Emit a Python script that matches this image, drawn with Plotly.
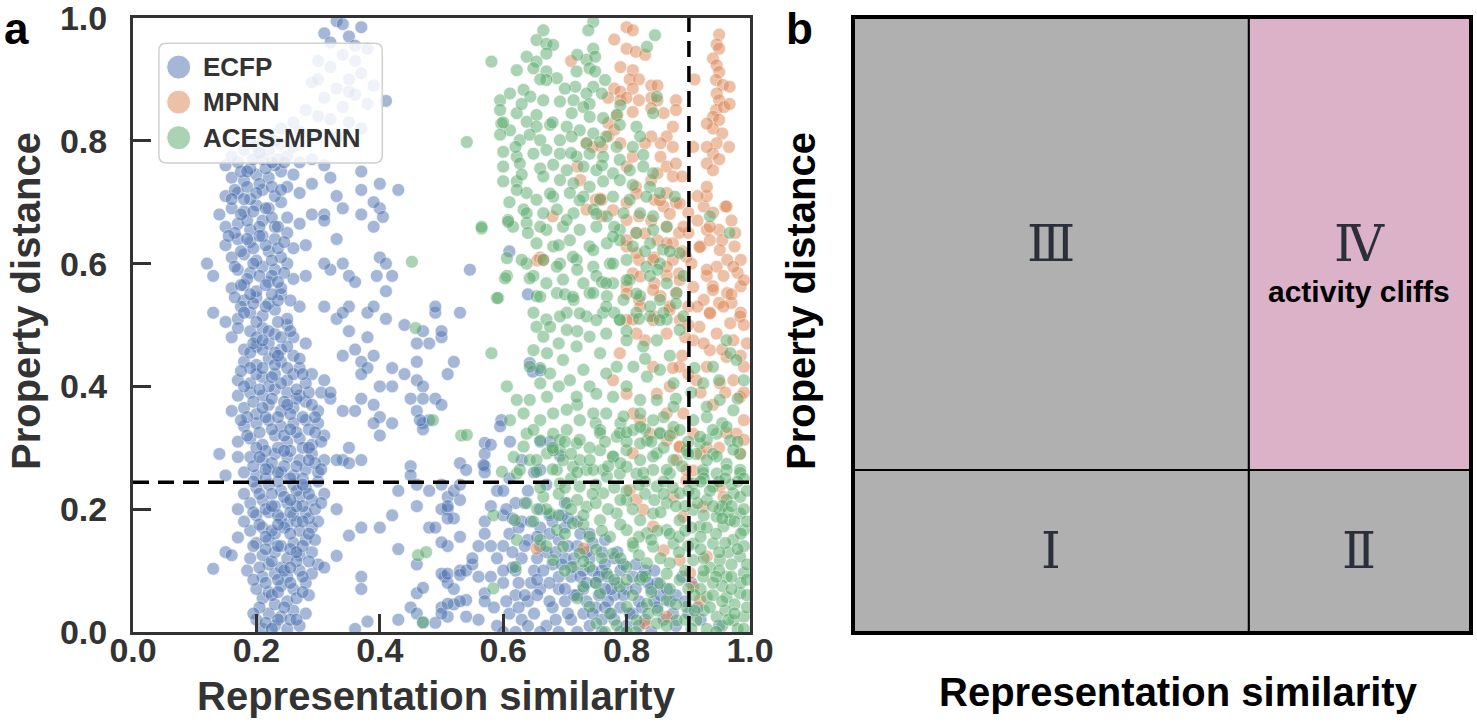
import plotly.graph_objects as go

# ---- panel a data: (representation similarity, property distance) ----
ecfp_pts = [
    # faded group behind the legend
    (0.33, 0.995), (0.31, 0.975), (0.35, 0.97), (0.36, 0.955), (0.34, 0.94), (0.30, 0.93), (0.32, 0.92),
    (0.37, 0.91), (0.35, 0.90), (0.29, 0.895), (0.33, 0.885), (0.31, 0.87), (0.36, 0.875), (0.38, 0.86),
    (0.34, 0.855), (0.28, 0.85), (0.30, 0.84), (0.32, 0.835), (0.35, 0.83), (0.37, 0.82), (0.27, 0.815),
    (0.29, 0.81), (0.33, 0.805), (0.41, 0.865), (0.36, 0.93), (0.32, 0.96), (0.38, 0.95), (0.30, 0.90),
    (0.39, 0.89), (0.26, 0.83), (0.24, 0.82), (0.22, 0.81), (0.34, 0.99), (0.37, 0.985), (0.35, 0.88),
    # main column
    (0.21, 0.005), (0.23, 0.01), (0.25, 0.005), (0.27, 0.01), (0.22, 0.03), (0.24, 0.025), (0.26, 0.035),
    (0.20, 0.02), (0.23, 0.045), (0.25, 0.05), (0.28, 0.03), (0.21, 0.055),
    (0.20, 0.07), (0.22, 0.065), (0.24, 0.075), (0.26, 0.07), (0.28, 0.08), (0.21, 0.09), (0.23, 0.095),
    (0.25, 0.09), (0.27, 0.10), (0.29, 0.095), (0.22, 0.11), (0.24, 0.105),
    (0.19, 0.12), (0.21, 0.125), (0.23, 0.13), (0.25, 0.12), (0.27, 0.125), (0.29, 0.13), (0.20, 0.145),
    (0.22, 0.15), (0.24, 0.14), (0.26, 0.145), (0.28, 0.15), (0.185, 0.10), (0.30, 0.11),
    (0.19, 0.165), (0.21, 0.17), (0.23, 0.16), (0.25, 0.175), (0.27, 0.165), (0.29, 0.17), (0.20, 0.19),
    (0.22, 0.195), (0.24, 0.185), (0.26, 0.19), (0.28, 0.195), (0.30, 0.18), (0.18, 0.18),
    (0.19, 0.21), (0.21, 0.215), (0.23, 0.205), (0.25, 0.21), (0.27, 0.22), (0.29, 0.215), (0.20, 0.235),
    (0.22, 0.24), (0.24, 0.23), (0.26, 0.24), (0.28, 0.235), (0.30, 0.245), (0.18, 0.225), (0.31, 0.225),
    (0.18, 0.26), (0.20, 0.255), (0.22, 0.265), (0.24, 0.26), (0.26, 0.255), (0.28, 0.265), (0.30, 0.26),
    (0.19, 0.285), (0.21, 0.28), (0.23, 0.29), (0.25, 0.285), (0.27, 0.28), (0.29, 0.29), (0.31, 0.28),
    (0.17, 0.31), (0.19, 0.315), (0.21, 0.305), (0.23, 0.32), (0.25, 0.31), (0.27, 0.315), (0.29, 0.305),
    (0.31, 0.32), (0.18, 0.335), (0.20, 0.34), (0.22, 0.345), (0.24, 0.335), (0.26, 0.34), (0.28, 0.345),
    (0.30, 0.34),
    (0.16, 0.36), (0.18, 0.365), (0.20, 0.355), (0.22, 0.37), (0.24, 0.36), (0.26, 0.365), (0.28, 0.375),
    (0.30, 0.36), (0.17, 0.385), (0.19, 0.39), (0.21, 0.385), (0.23, 0.395), (0.25, 0.39), (0.27, 0.385),
    (0.32, 0.38),
    (0.17, 0.41), (0.19, 0.405), (0.21, 0.415), (0.23, 0.42), (0.25, 0.41), (0.27, 0.43), (0.18, 0.44),
    (0.20, 0.435), (0.22, 0.445), (0.24, 0.44), (0.26, 0.45), (0.29, 0.42), (0.31, 0.41),
    (0.18, 0.46), (0.20, 0.465), (0.22, 0.47), (0.24, 0.46), (0.26, 0.48), (0.19, 0.49), (0.21, 0.495),
    (0.23, 0.485), (0.25, 0.50), (0.28, 0.47), (0.16, 0.48), (0.15, 0.505),
    (0.17, 0.51), (0.19, 0.52), (0.21, 0.515), (0.23, 0.525), (0.25, 0.51), (0.18, 0.54), (0.20, 0.545),
    (0.22, 0.535), (0.24, 0.55), (0.27, 0.53), (0.13, 0.52),
    (0.16, 0.56), (0.18, 0.565), (0.20, 0.555), (0.22, 0.57), (0.24, 0.56), (0.26, 0.575), (0.17, 0.59),
    (0.19, 0.585), (0.21, 0.595), (0.23, 0.59), (0.25, 0.60), (0.28, 0.58),
    (0.16, 0.61), (0.18, 0.615), (0.20, 0.605), (0.22, 0.62), (0.24, 0.61), (0.26, 0.625), (0.17, 0.64),
    (0.19, 0.635), (0.21, 0.645), (0.23, 0.64), (0.25, 0.65), (0.28, 0.63), (0.15, 0.63),
    (0.15, 0.66), (0.17, 0.665), (0.19, 0.655), (0.21, 0.67), (0.23, 0.66), (0.25, 0.675), (0.27, 0.665),
    (0.16, 0.69), (0.18, 0.685), (0.20, 0.695), (0.22, 0.69), (0.24, 0.70), (0.29, 0.68), (0.14, 0.68),
    (0.15, 0.71), (0.17, 0.715), (0.19, 0.705), (0.21, 0.72), (0.23, 0.71), (0.25, 0.725), (0.27, 0.715),
    (0.16, 0.74), (0.18, 0.735), (0.20, 0.745), (0.22, 0.74), (0.24, 0.75), (0.26, 0.745), (0.29, 0.73),
    (0.15, 0.76), (0.17, 0.765), (0.19, 0.755), (0.21, 0.77), (0.23, 0.76), (0.25, 0.775), (0.27, 0.765),
    (0.29, 0.77), (0.31, 0.76), (0.18, 0.785), (0.20, 0.79), (0.22, 0.785), (0.24, 0.795), (0.26, 0.79),
    # column core, filling between the rows above
    (0.215, 0.015), (0.235, 0.02), (0.255, 0.02), (0.245, 0.04), (0.265, 0.055), (0.225, 0.06), (0.205, 0.04),
    (0.215, 0.08), (0.235, 0.085), (0.255, 0.08), (0.275, 0.09), (0.245, 0.10), (0.265, 0.115), (0.205, 0.105),
    (0.285, 0.115), (0.215, 0.135), (0.235, 0.14), (0.255, 0.135), (0.275, 0.14), (0.225, 0.165),
    (0.245, 0.17), (0.265, 0.18), (0.285, 0.185), (0.205, 0.175), (0.215, 0.20), (0.235, 0.19),
    (0.255, 0.195), (0.275, 0.205), (0.295, 0.20), (0.225, 0.225), (0.245, 0.22), (0.265, 0.23),
    (0.285, 0.225), (0.205, 0.225), (0.215, 0.25), (0.235, 0.245), (0.255, 0.25), (0.275, 0.25),
    (0.295, 0.275), (0.225, 0.275), (0.245, 0.27), (0.265, 0.27), (0.285, 0.28), (0.195, 0.27),
    (0.215, 0.295), (0.235, 0.30), (0.255, 0.295), (0.275, 0.30), (0.20, 0.30), (0.225, 0.33), (0.245, 0.32),
    (0.265, 0.325), (0.285, 0.33), (0.305, 0.31), (0.185, 0.35), (0.215, 0.35), (0.235, 0.35),
    (0.255, 0.355), (0.275, 0.35), (0.295, 0.35), (0.195, 0.375), (0.225, 0.38), (0.245, 0.375),
    (0.265, 0.38), (0.285, 0.39), (0.18, 0.40), (0.20, 0.42), (0.22, 0.40), (0.24, 0.405), (0.26, 0.42),
    (0.28, 0.405), (0.19, 0.43), (0.21, 0.43), (0.23, 0.435), (0.25, 0.43), (0.19, 0.455), (0.21, 0.46),
    (0.23, 0.455), (0.25, 0.465), (0.20, 0.48), (0.22, 0.49), (0.24, 0.48), (0.175, 0.53), (0.195, 0.535),
    (0.215, 0.53), (0.235, 0.54), (0.185, 0.575), (0.205, 0.58), (0.225, 0.58), (0.245, 0.585),
    (0.175, 0.62), (0.195, 0.625), (0.215, 0.63), (0.235, 0.625), (0.165, 0.65), (0.185, 0.67),
    (0.205, 0.66), (0.225, 0.675), (0.165, 0.72), (0.185, 0.725), (0.205, 0.73), (0.225, 0.725),
    (0.175, 0.75), (0.195, 0.77), (0.215, 0.755), (0.235, 0.77),
    (0.195, 0.03), (0.225, 0.005), (0.265, 0.02), (0.285, 0.06), (0.195, 0.085), (0.235, 0.065),
    (0.275, 0.065), (0.255, 0.105), (0.195, 0.14), (0.225, 0.115), (0.265, 0.13), (0.295, 0.15),
    (0.215, 0.155), (0.255, 0.16), (0.285, 0.16), (0.235, 0.175), (0.195, 0.195), (0.275, 0.18),
    (0.195, 0.245), (0.225, 0.205), (0.265, 0.205), (0.305, 0.21), (0.235, 0.26), (0.275, 0.24),
    (0.305, 0.265), (0.205, 0.285), (0.245, 0.295), (0.285, 0.30), (0.255, 0.215), (0.215, 0.265),
    (0.185, 0.32), (0.205, 0.325), (0.255, 0.33), (0.295, 0.325), (0.175, 0.345), (0.21, 0.365),
    (0.25, 0.37), (0.29, 0.37), (0.205, 0.395), (0.265, 0.395), (0.305, 0.39), (0.225, 0.415),
    (0.275, 0.42), (0.175, 0.425), (0.235, 0.45), (0.27, 0.445), (0.195, 0.47), (0.21, 0.475),
    (0.255, 0.49), (0.17, 0.495), (0.20, 0.505), (0.235, 0.505), (0.18, 0.52), (0.225, 0.55),
    (0.165, 0.545), (0.19, 0.55), (0.255, 0.54), (0.175, 0.565), (0.215, 0.565), (0.235, 0.57),
    (0.195, 0.60), (0.165, 0.595), (0.225, 0.605), (0.185, 0.64), (0.205, 0.645), (0.245, 0.635),
    (0.155, 0.645), (0.175, 0.68), (0.195, 0.685), (0.215, 0.69), (0.235, 0.66), (0.16, 0.705),
    (0.18, 0.705), (0.20, 0.715), (0.24, 0.72), (0.16, 0.775), (0.185, 0.75), (0.205, 0.78),
    (0.225, 0.765), (0.245, 0.765), (0.19, 0.80), (0.21, 0.80), (0.23, 0.80),
    # scattered right of the column
    (0.43, 0.72), (0.40, 0.73), (0.37, 0.75), (0.37, 0.72), (0.34, 0.69), (0.37, 0.68), (0.40, 0.69),
    (0.33, 0.71), (0.31, 0.68), (0.32, 0.74), (0.12, 0.60), (0.13, 0.58), (0.34, 0.60), (0.40, 0.61),
    (0.41, 0.60), (0.42, 0.58), (0.35, 0.58), (0.32, 0.59), (0.36, 0.57), (0.35, 0.53), (0.38, 0.52),
    (0.41, 0.51), (0.44, 0.50), (0.49, 0.52), (0.49, 0.53), (0.53, 0.52), (0.50, 0.48), (0.47, 0.49),
    (0.48, 0.47), (0.46, 0.47), (0.35, 0.49), (0.38, 0.48), (0.33, 0.51), (0.31, 0.53), (0.34, 0.52),
    (0.39, 0.45), (0.36, 0.46), (0.34, 0.45), (0.37, 0.44), (0.38, 0.43), (0.42, 0.43), (0.44, 0.42),
    (0.46, 0.44), (0.46, 0.41), (0.47, 0.40), (0.47, 0.38), (0.45, 0.38), (0.42, 0.40), (0.40, 0.40),
    (0.37, 0.42), (0.37, 0.38), (0.39, 0.37), (0.40, 0.35), (0.42, 0.34), (0.46, 0.36), (0.47, 0.34),
    (0.48, 0.345), (0.49, 0.38), (0.51, 0.42), (0.52, 0.44), (0.34, 0.36), (0.36, 0.36), (0.32, 0.39),
    (0.35, 0.30), (0.37, 0.28), (0.45, 0.27), (0.34, 0.28), (0.39, 0.70), (0.405, 0.676), (0.39, 0.66),
    (0.31, 0.67), (0.33, 0.64), (0.31, 0.60), (0.395, 0.58), (0.39, 0.53), (0.41, 0.555),
    (0.14, 0.29), (0.17, 0.285), (0.15, 0.255), (0.33, 0.28), (0.35, 0.275), (0.40, 0.32), (0.39, 0.34),
    (0.45, 0.255), (0.47, 0.33), (0.465, 0.345), (0.17, 0.20), (0.33, 0.20), (0.37, 0.17), (0.40, 0.17),
    (0.42, 0.19), (0.46, 0.205), (0.48, 0.17), (0.35, 0.157), (0.43, 0.23), (0.46, 0.24), (0.48, 0.23),
    (0.51, 0.20), (0.52, 0.185), (0.53, 0.215), (0.17, 0.154), (0.15, 0.13), (0.16, 0.125), (0.13, 0.103),
    (0.31, 0.105), (0.33, 0.124), (0.37, 0.09), (0.37, 0.07), (0.43, 0.135), (0.46, 0.11), (0.505, 0.09),
    (0.52, 0.07), (0.46, 0.063), (0.47, 0.072), (0.49, 0.17), (0.36, 0.005), (0.38, 0.017), (0.43, 0.02),
    (0.45, 0.04), (0.46, 0.03), (0.47, 0.015), (0.49, 0.015), (0.50, 0.04), (0.52, 0.045),
    # between the clusters
    (0.50, 0.20), (0.51, 0.185), (0.51, 0.22), (0.52, 0.23), (0.53, 0.155), (0.51, 0.14), (0.50, 0.146),
    (0.50, 0.095), (0.51, 0.08), (0.51, 0.095), (0.53, 0.10), (0.53, 0.093), (0.54, 0.10), (0.55, 0.11),
    (0.56, 0.09), (0.57, 0.063), (0.54, 0.052), (0.53, 0.05), (0.51, 0.025), (0.50, 0.03), (0.51, 0.046),
    (0.54, 0.025), (0.53, 0.275), (0.54, 0.264), (0.53, 0.24), (0.51, 0.205), (0.50, 0.24), (0.57, 0.308),
    (0.57, 0.29), (0.58, 0.305), (0.59, 0.23), (0.58, 0.205), (0.57, 0.18), (0.57, 0.16), (0.56, 0.14),
    (0.55, 0.12), (0.546, 0.59), (0.61, 0.62), (0.64, 0.55), (0.50, 0.49), (0.50, 0.37), (0.57, 0.27),
    (0.57, 0.26), (0.643, 0.438), (0.648, 0.424), (0.66, 0.426), (0.597, 0.345), (0.611, 0.31),
    (0.66, 0.31), (0.676, 0.31), (0.692, 0.287), (0.66, 0.264), (0.595, 0.335), (0.568, 0.272),
    # dense lower-right group
    (0.60, 0.19), (0.62, 0.21), (0.61, 0.16), (0.63, 0.18), (0.64, 0.15), (0.66, 0.17), (0.63, 0.12),
    (0.65, 0.10), (0.67, 0.13), (0.69, 0.15), (0.68, 0.11), (0.70, 0.12), (0.72, 0.14), (0.71, 0.09),
    (0.73, 0.10), (0.74, 0.12), (0.76, 0.13), (0.75, 0.08), (0.77, 0.09), (0.79, 0.10), (0.78, 0.06),
    (0.80, 0.07), (0.82, 0.05), (0.81, 0.03), (0.83, 0.02), (0.85, 0.04), (0.86, 0.02), (0.88, 0.01),
    (0.87, 0.05), (0.84, 0.07), (0.60, 0.08), (0.62, 0.06), (0.61, 0.03), (0.63, 0.02), (0.64, 0.05),
    (0.66, 0.07), (0.65, 0.03), (0.67, 0.01), (0.68, 0.04), (0.69, 0.07), (0.70, 0.05), (0.71, 0.02),
    (0.72, 0.06), (0.73, 0.03), (0.74, 0.01), (0.75, 0.04), (0.76, 0.02), (0.77, 0.05), (0.78, 0.02),
    (0.79, 0.04), (0.80, 0.01), (0.59, 0.12), (0.58, 0.09), (0.57, 0.05), (0.56, 0.02), (0.59, 0.01),
    (0.60, 0.14), (0.62, 0.10), (0.66, 0.20), (0.68, 0.18), (0.70, 0.21), (0.64, 0.23), (0.61, 0.25),
    (0.63, 0.28), (0.60, 0.23), (0.65, 0.26), (0.67, 0.24), (0.72, 0.18), (0.74, 0.16), (0.70, 0.17),
    (0.66, 0.14), (0.69, 0.09), (0.73, 0.07), (0.76, 0.10), (0.78, 0.12), (0.81, 0.09), (0.83, 0.10),
    (0.85, 0.08), (0.88, 0.06), (0.90, 0.03), (0.89, 0.09), (0.92, 0.02), (0.95, 0.01),
    (0.605, 0.20), (0.625, 0.17), (0.615, 0.13), (0.635, 0.14), (0.655, 0.12), (0.645, 0.18), (0.675, 0.16),
    (0.685, 0.13), (0.705, 0.14), (0.695, 0.11), (0.715, 0.12), (0.735, 0.13), (0.725, 0.09), (0.745, 0.10),
    (0.765, 0.11), (0.755, 0.06), (0.785, 0.08), (0.795, 0.06), (0.815, 0.07), (0.825, 0.04), (0.845, 0.05),
    (0.835, 0.08), (0.605, 0.05), (0.625, 0.04), (0.645, 0.08), (0.655, 0.06), (0.675, 0.05), (0.685, 0.02),
    (0.705, 0.03), (0.715, 0.06), (0.735, 0.05), (0.745, 0.03), (0.765, 0.04), (0.775, 0.07), (0.805, 0.03),
    (0.625, 0.08), (0.665, 0.10), (0.695, 0.19), (0.635, 0.21), (0.615, 0.105),
    (0.615, 0.185), (0.655, 0.155), (0.675, 0.19), (0.705, 0.185), (0.725, 0.16), (0.745, 0.145),
    (0.765, 0.15), (0.785, 0.13), (0.795, 0.11), (0.815, 0.11), (0.825, 0.09), (0.845, 0.10), (0.855, 0.06),
    (0.865, 0.07), (0.875, 0.03), (0.895, 0.05), (0.905, 0.08), (0.915, 0.04), (0.60, 0.10), (0.58, 0.14),
    (0.585, 0.04), (0.60, 0.0), (0.62, 0.0), (0.64, 0.01), (0.66, 0.0), (0.69, 0.0), (0.72, 0.0), (0.76, 0.0),
    (0.79, 0.0), (0.82, 0.01), (0.84, 0.0), (0.635, 0.06), (0.655, 0.085), (0.675, 0.08), (0.70, 0.07),
    (0.71, 0.105), (0.735, 0.08), (0.765, 0.07), (0.755, 0.09), (0.775, 0.03),
]

mpnn_pts = [
    (0.80, 0.985), (0.81, 0.98), (0.78, 0.965), (0.80, 0.95), (0.815, 0.945), (0.83, 0.94), (0.71, 0.93),
    (0.79, 0.92), (0.81, 0.915), (0.805, 0.90), (0.82, 0.90), (0.84, 0.89), (0.85, 0.89), (0.78, 0.885),
    (0.79, 0.88), (0.81, 0.885), (0.77, 0.87), (0.79, 0.866), (0.80, 0.87), (0.82, 0.866), (0.84, 0.87),
    (0.85, 0.866), (0.88, 0.866), (0.88, 0.85), (0.86, 0.845), (0.84, 0.853), (0.81, 0.847), (0.91, 0.90),
    (0.95, 0.973), (0.946, 0.957), (0.95, 0.95), (0.94, 0.934), (0.946, 0.923), (0.95, 0.912),
    (0.945, 0.899), (0.956, 0.891), (0.967, 0.888), (0.946, 0.877), (0.95, 0.866), (0.945, 0.85),
    (0.958, 0.855), (0.967, 0.86), (0.94, 0.839), (0.95, 0.834), (0.94, 0.82), (0.955, 0.812),
    (0.93, 0.828), (0.966, 0.79), (0.946, 0.796), (0.94, 0.779), (0.95, 0.77), (0.93, 0.763), (0.93, 0.79),
    (0.94, 0.752),
    (0.875, 0.823), (0.865, 0.807), (0.875, 0.79), (0.855, 0.796), (0.84, 0.807), (0.83, 0.796),
    (0.855, 0.774), (0.865, 0.758), (0.88, 0.763), (0.85, 0.747), (0.875, 0.742), (0.89, 0.742),
    (0.908, 0.79), (0.925, 0.693), (0.93, 0.71), (0.915, 0.71), (0.94, 0.683), (0.96, 0.693), (0.97, 0.67),
    (0.95, 0.655), (0.976, 0.65), (0.93, 0.655), (0.915, 0.67), (0.90, 0.683), (0.88, 0.699), (0.865, 0.715),
    (0.845, 0.704), (0.86, 0.693), (0.84, 0.736), (0.815, 0.725), (0.80, 0.758), (0.81, 0.774), (0.79, 0.796),
    (0.77, 0.807), (0.76, 0.79), (0.77, 0.829), (0.785, 0.842), (0.78, 0.818), (0.75, 0.704), (0.76, 0.677),
    (0.82, 0.677), (0.84, 0.67), (0.865, 0.66), (0.885, 0.65), (0.90, 0.65), (0.85, 0.638), (0.875, 0.633),
    (0.92, 0.628), (0.935, 0.638), (0.955, 0.638), (0.975, 0.628), (0.985, 0.606), (0.963, 0.606),
    (0.946, 0.595), (0.93, 0.58), (0.957, 0.58), (0.98, 0.585), (0.94, 0.563), (0.963, 0.552), (0.985, 0.563),
    (0.925, 0.541), (0.95, 0.536), (0.97, 0.536), (0.935, 0.52), (0.985, 0.52), (0.815, 0.65), (0.80, 0.628),
    (0.82, 0.606), (0.845, 0.61), (0.875, 0.606), (0.885, 0.584), (0.865, 0.58), (0.845, 0.568),
    (0.81, 0.584), (0.80, 0.563), (0.82, 0.541), (0.855, 0.547), (0.88, 0.552), (0.90, 0.53), (0.87, 0.525),
    (0.845, 0.514), (0.81, 0.509), (0.66, 0.61), (0.655, 0.605), (0.76, 0.704), (0.735, 0.796),
    (0.745, 0.79), (0.72, 0.758), (0.725, 0.736), (0.735, 0.688), (0.68, 0.677), (0.80, 0.699),
    (0.757, 0.706), (0.665, 0.606), (0.778, 0.687), (0.816, 0.714), (0.854, 0.703), (0.886, 0.698),
    (0.93, 0.725), (0.962, 0.693), (0.935, 0.66), (0.918, 0.627), (0.951, 0.622), (0.973, 0.595),
    (0.99, 0.573), (0.93, 0.59), (0.908, 0.562), (0.94, 0.557), (0.957, 0.53), (0.935, 0.519),
    (0.968, 0.503), (0.984, 0.514), (0.918, 0.497), (0.946, 0.486), (0.908, 0.475), (0.973, 0.475),
    (0.935, 0.459), (0.962, 0.448), (0.99, 0.432), (0.93, 0.432), (0.913, 0.41), (0.951, 0.405),
    (0.973, 0.41), (0.886, 0.432), (0.87, 0.40), (0.849, 0.388), (0.865, 0.356), (0.892, 0.356),
    (0.908, 0.323), (0.886, 0.301), (0.92, 0.29), (0.865, 0.312), (0.838, 0.323), (0.822, 0.345),
    (0.843, 0.432), (0.83, 0.475), (0.865, 0.486), (0.843, 0.508), (0.87, 0.53), (0.886, 0.508),
    (0.816, 0.486), (0.80, 0.508), (0.822, 0.53), (0.80, 0.551), (0.822, 0.579), (0.843, 0.557),
    (0.865, 0.595), (0.886, 0.573), (0.843, 0.606), (0.816, 0.617), (0.80, 0.638), (0.83, 0.649),
    (0.865, 0.633), (0.897, 0.611), (0.892, 0.66), (0.87, 0.681), (0.80, 0.671), (0.789, 0.454),
    (0.778, 0.41), (0.80, 0.388), (0.811, 0.356), (0.908, 0.263), (0.897, 0.247), (0.984, 0.383),
    (0.99, 0.345), (0.978, 0.323),
    (0.89, 0.45), (0.90, 0.42), (0.875, 0.43), (0.895, 0.48), (0.90, 0.50), (0.915, 0.53), (0.905, 0.60),
    (0.89, 0.62), (0.97, 0.55), (0.99, 0.50), (0.995, 0.47), (0.985, 0.45), (0.955, 0.46), (0.925, 0.47),
    (0.92, 0.39), (0.94, 0.37), (0.96, 0.39), (0.99, 0.39), (0.93, 0.30), (0.95, 0.30),
    (0.875, 0.324), (0.886, 0.302), (0.881, 0.28), (0.962, 0.324), (0.99, 0.313), (0.984, 0.291),
    (0.951, 0.237), (0.957, 0.22), (0.805, 0.231), (0.816, 0.215), (0.827, 0.199), (0.843, 0.172),
    (0.86, 0.133), (0.886, 0.117), (0.903, 0.096), (0.908, 0.074), (0.919, 0.052), (0.93, 0.123),
    (0.924, 0.204), (0.892, 0.188), (0.876, 0.22), (0.83, 0.014), (0.865, 0.025), (0.654, 0.136),
    (0.73, 0.136), (0.81, 0.291), (0.897, 0.264),
]

aces_pts = [
    # upper cloud
    (0.746, 0.994), (0.665, 0.98), (0.738, 0.98), (0.846, 0.972), (0.654, 0.964), (0.67, 0.958),
    (0.681, 0.956), (0.833, 0.953), (0.746, 0.95), (0.581, 0.929), (0.638, 0.937), (0.654, 0.929),
    (0.67, 0.942), (0.735, 0.932), (0.749, 0.937), (0.74, 0.918), (0.67, 0.913), (0.622, 0.915),
    (0.649, 0.918), (0.719, 0.913), (0.749, 0.913), (0.687, 0.902), (0.67, 0.899), (0.717, 0.888),
    (0.765, 0.899), (0.633, 0.883), (0.746, 0.888), (0.735, 0.877), (0.76, 0.877), (0.595, 0.866),
    (0.611, 0.877), (0.644, 0.872), (0.665, 0.866), (0.692, 0.864), (0.714, 0.866), (0.74, 0.86),
    (0.79, 0.858), (0.849, 0.872), (0.595, 0.85), (0.622, 0.845), (0.654, 0.842), (0.711, 0.845),
    (0.73, 0.855), (0.74, 0.839), (0.762, 0.837), (0.784, 0.842), (0.843, 0.845), (0.597, 0.828),
    (0.611, 0.817), (0.638, 0.831), (0.654, 0.823), (0.676, 0.826), (0.703, 0.823), (0.724, 0.817),
    (0.746, 0.812), (0.767, 0.807), (0.789, 0.826), (0.816, 0.823), (0.595, 0.81), (0.627, 0.801),
    (0.643, 0.81), (0.66, 0.801), (0.541, 0.798), (0.692, 0.801), (0.711, 0.807), (0.735, 0.796),
    (0.757, 0.798), (0.784, 0.79), (0.81, 0.79), (0.822, 0.807), (0.60, 0.782), (0.622, 0.774),
    (0.649, 0.779), (0.67, 0.785), (0.692, 0.779), (0.719, 0.774), (0.74, 0.779), (0.762, 0.774),
    (0.789, 0.769), (0.827, 0.777), (0.60, 0.758), (0.627, 0.763), (0.66, 0.755), (0.681, 0.761),
    (0.703, 0.752), (0.73, 0.758), (0.751, 0.752), (0.778, 0.747), (0.805, 0.752), (0.827, 0.758),
    (0.843, 0.747), (0.60, 0.734), (0.622, 0.734), (0.665, 0.742), (0.692, 0.736), (0.714, 0.731),
    (0.74, 0.725), (0.762, 0.734), (0.789, 0.736), (0.81, 0.728), (0.838, 0.725), (0.638, 0.715),
    (0.654, 0.704), (0.681, 0.709), (0.708, 0.715), (0.73, 0.709), (0.757, 0.704), (0.778, 0.709),
    (0.805, 0.704), (0.832, 0.709), (0.854, 0.715), (0.878, 0.709), (0.633, 0.688), (0.665, 0.682),
    (0.687, 0.688), (0.714, 0.682), (0.746, 0.688), (0.768, 0.677), (0.795, 0.682), (0.822, 0.682),
    (0.843, 0.677), (0.935, 0.677), (0.565, 0.657), (0.608, 0.671), (0.616, 0.66), (0.638, 0.666),
    (0.67, 0.655), (0.697, 0.66), (0.724, 0.655), (0.751, 0.66), (0.789, 0.655), (0.816, 0.65),
    (0.843, 0.655), (0.865, 0.66), (0.967, 0.65), (0.654, 0.633), (0.681, 0.628), (0.708, 0.638),
    (0.74, 0.628), (0.768, 0.633), (0.789, 0.638), (0.81, 0.628), (0.838, 0.633), (0.859, 0.623),
    (0.606, 0.609), (0.638, 0.60), (0.665, 0.606), (0.692, 0.60), (0.719, 0.606), (0.746, 0.595),
    (0.773, 0.60), (0.80, 0.606), (0.832, 0.595), (0.854, 0.60), (0.886, 0.617), (0.592, 0.544),
    (0.606, 0.58), (0.649, 0.58), (0.67, 0.568), (0.697, 0.574), (0.73, 0.568), (0.751, 0.58),
    (0.778, 0.568), (0.805, 0.574), (0.838, 0.58), (0.865, 0.568), (0.892, 0.58), (0.654, 0.547),
    (0.687, 0.552), (0.714, 0.541), (0.74, 0.552), (0.768, 0.547), (0.795, 0.541), (0.822, 0.547),
    (0.854, 0.541), (0.881, 0.552), (0.649, 0.52), (0.67, 0.509), (0.703, 0.52), (0.735, 0.514),
    (0.762, 0.52), (0.789, 0.509), (0.816, 0.52), (0.838, 0.514), (0.865, 0.509), (0.892, 0.514),
    (0.62, 0.79), (0.63, 0.745), (0.61, 0.70), (0.64, 0.65), (0.69, 0.63), (0.72, 0.59), (0.70, 0.55),
    (0.76, 0.57), (0.78, 0.52), (0.80, 0.49), (0.82, 0.51), (0.72, 0.49), (0.69, 0.47), (0.66, 0.43),
    (0.69, 0.40), (0.72, 0.37), (0.75, 0.34), (0.79, 0.34), (0.83, 0.33), (0.86, 0.35), (0.88, 0.38),
    (0.905, 0.39), (0.93, 0.35), (0.955, 0.34), (0.98, 0.38), (0.99, 0.41), (0.95, 0.41), (0.91, 0.43),
    (0.87, 0.45), (0.83, 0.445), (0.86, 0.52), (0.88, 0.535), (0.85, 0.59), (0.87, 0.62), (0.83, 0.62),
    (0.78, 0.66), (0.76, 0.76), (0.71, 0.78), (0.68, 0.83), (0.63, 0.86), (0.70, 0.885), (0.72, 0.94),
    (0.66, 0.90), (0.60, 0.83),
    # stragglers on the left
    (0.452, 0.603), (0.458, 0.495), (0.486, 0.345), (0.462, 0.125), (0.475, 0.13), (0.47, 0.016),
    (0.532, 0.32),
    # middle band
    (0.565, 0.66), (0.608, 0.668), (0.603, 0.576), (0.59, 0.544), (0.581, 0.454), (0.63, 0.606),
    (0.643, 0.576), (0.66, 0.546), (0.654, 0.497), (0.665, 0.481), (0.649, 0.459), (0.671, 0.454),
    (0.643, 0.432), (0.676, 0.421), (0.66, 0.405), (0.606, 0.40), (0.622, 0.378), (0.643, 0.378),
    (0.671, 0.383), (0.633, 0.356), (0.611, 0.345), (0.66, 0.345), (0.681, 0.356), (0.638, 0.323),
    (0.66, 0.312), (0.681, 0.323), (0.703, 0.329), (0.617, 0.285), (0.643, 0.28), (0.671, 0.291),
    (0.692, 0.296), (0.719, 0.307), (0.622, 0.258), (0.654, 0.261), (0.687, 0.264), (0.713, 0.269),
    (0.735, 0.264), (0.703, 0.362), (0.724, 0.345), (0.746, 0.356), (0.719, 0.383), (0.74, 0.40),
    (0.708, 0.41), (0.73, 0.427), (0.697, 0.443), (0.719, 0.465), (0.74, 0.481), (0.703, 0.492),
    (0.751, 0.508), (0.724, 0.519), (0.692, 0.514), (0.676, 0.497), (0.767, 0.53), (0.746, 0.552),
    (0.713, 0.546), (0.687, 0.595), (0.66, 0.66), (0.638, 0.682), (0.703, 0.671), (0.724, 0.703),
    (0.676, 0.714), (0.622, 0.72), (0.751, 0.681), (0.778, 0.644), (0.746, 0.622), (0.713, 0.611),
    (0.778, 0.60), (0.80, 0.573), (0.767, 0.568), (0.816, 0.551), (0.838, 0.53), (0.789, 0.508),
    (0.767, 0.486), (0.80, 0.475), (0.827, 0.465), (0.849, 0.475), (0.854, 0.508), (0.886, 0.492),
    (0.757, 0.454), (0.784, 0.432), (0.811, 0.432), (0.833, 0.416), (0.854, 0.427), (0.876, 0.405),
    (0.767, 0.421), (0.751, 0.388), (0.778, 0.383), (0.80, 0.40), (0.822, 0.378), (0.849, 0.378),
    (0.876, 0.367), (0.924, 0.405), (0.94, 0.432), (0.968, 0.454), (0.962, 0.475), (0.978, 0.443),
    (0.767, 0.356), (0.795, 0.351), (0.822, 0.356), (0.843, 0.345), (0.757, 0.329), (0.784, 0.318),
    (0.811, 0.329), (0.833, 0.312), (0.854, 0.323), (0.876, 0.334), (0.908, 0.345), (0.93, 0.367),
    (0.951, 0.378), (0.973, 0.361), (0.919, 0.307), (0.946, 0.323), (0.968, 0.312), (0.984, 0.29),
    (0.94, 0.29), (0.962, 0.274), (0.757, 0.296), (0.778, 0.285), (0.80, 0.296), (0.822, 0.28),
    (0.849, 0.291), (0.876, 0.28), (0.897, 0.296), (0.762, 0.264), (0.789, 0.258), (0.816, 0.258),
    (0.843, 0.264), (0.87, 0.258), (0.924, 0.258), (0.946, 0.258), (0.984, 0.264),
    # dense lower-right block
    (0.541, 0.321), (0.598, 0.261), (0.584, 0.19), (0.619, 0.182), (0.584, 0.071), (0.62, 0.106),
    (0.622, 0.15), (0.649, 0.18), (0.638, 0.21), (0.627, 0.264), (0.654, 0.28), (0.665, 0.22),
    (0.676, 0.193), (0.687, 0.166), (0.66, 0.15), (0.697, 0.139), (0.681, 0.117), (0.713, 0.106),
    (0.724, 0.128), (0.74, 0.155), (0.713, 0.177), (0.703, 0.21), (0.724, 0.237), (0.692, 0.242),
    (0.735, 0.204), (0.757, 0.182), (0.762, 0.226), (0.746, 0.264), (0.768, 0.253), (0.724, 0.28),
    (0.697, 0.28), (0.681, 0.296), (0.778, 0.286), (0.80, 0.269), (0.789, 0.324), (0.822, 0.307),
    (0.843, 0.286), (0.827, 0.259), (0.849, 0.237), (0.865, 0.264), (0.80, 0.215), (0.784, 0.193),
    (0.822, 0.182), (0.843, 0.193), (0.865, 0.21), (0.886, 0.226), (0.908, 0.242), (0.924, 0.264),
    (0.913, 0.29), (0.93, 0.313), (0.946, 0.286), (0.973, 0.297), (0.962, 0.264), (0.984, 0.259),
    (0.94, 0.237), (0.973, 0.226), (0.93, 0.215), (0.908, 0.199), (0.951, 0.199), (0.984, 0.193),
    (0.886, 0.182), (0.919, 0.172), (0.957, 0.172), (0.865, 0.166), (0.833, 0.161), (0.80, 0.166),
    (0.773, 0.155), (0.751, 0.134), (0.778, 0.128), (0.811, 0.139), (0.843, 0.139), (0.876, 0.144),
    (0.908, 0.144), (0.94, 0.144), (0.973, 0.15), (0.99, 0.166), (0.74, 0.106), (0.768, 0.095),
    (0.80, 0.106), (0.833, 0.112), (0.87, 0.112), (0.908, 0.117), (0.951, 0.117), (0.984, 0.123),
    (0.73, 0.074), (0.757, 0.063), (0.789, 0.074), (0.822, 0.085), (0.854, 0.079), (0.886, 0.085),
    (0.924, 0.09), (0.962, 0.09), (0.99, 0.096), (0.74, 0.041), (0.773, 0.03), (0.80, 0.041),
    (0.833, 0.046), (0.865, 0.052), (0.897, 0.041), (0.93, 0.057), (0.962, 0.057), (0.984, 0.063),
    (0.751, 0.014), (0.784, 0.011), (0.816, 0.019), (0.849, 0.014), (0.881, 0.019), (0.913, 0.019),
    (0.946, 0.025), (0.973, 0.019), (0.99, 0.025), (0.946, 0.188), (0.968, 0.182), (0.962, 0.215),
    (0.984, 0.22), (0.919, 0.318), (0.886, 0.329), (0.962, 0.334), (0.94, 0.329), (0.822, 0.334),
    (0.854, 0.324), (0.757, 0.324), (0.724, 0.313), (0.692, 0.313), (0.633, 0.302), (0.649, 0.329),
    (0.935, 0.23), (0.955, 0.205), (0.975, 0.18), (0.99, 0.14), (0.965, 0.13), (0.945, 0.16),
    (0.925, 0.19), (0.935, 0.105), (0.955, 0.075), (0.975, 0.045), (0.995, 0.04), (0.985, 0.08),
    (0.96, 0.035), (0.94, 0.06), (0.92, 0.07), (0.925, 0.12), (0.95, 0.10), (0.97, 0.11), (0.99, 0.20),
    (0.995, 0.11), (0.98, 0.005), (0.955, 0.01), (0.93, 0.005), (0.905, 0.005), (0.91, 0.06),
    (0.90, 0.14), (0.905, 0.17), (0.915, 0.21), (0.90, 0.23), (0.925, 0.25), (0.95, 0.245), (0.97, 0.24),
    (0.70, 0.31), (0.74, 0.30), (0.80, 0.31), (0.86, 0.30), (0.90, 0.31), (0.98, 0.31),
    (0.68, 0.265), (0.71, 0.25), (0.75, 0.24), (0.79, 0.275), (0.83, 0.245), (0.86, 0.245), (0.89, 0.27),
    (0.93, 0.28), (0.99, 0.25), (0.67, 0.20), (0.69, 0.225), (0.72, 0.215), (0.75, 0.21), (0.78, 0.235),
    (0.81, 0.20), (0.83, 0.225), (0.855, 0.195), (0.875, 0.235), (0.895, 0.205), (0.67, 0.14), (0.70, 0.16),
    (0.73, 0.175), (0.76, 0.165), (0.79, 0.175), (0.82, 0.155), (0.85, 0.165), (0.885, 0.155), (0.93, 0.17),
    (0.965, 0.195), (0.70, 0.10), (0.73, 0.115), (0.76, 0.12), (0.79, 0.12), (0.82, 0.125), (0.855, 0.12),
    (0.885, 0.13), (0.92, 0.135), (0.96, 0.145), (0.98, 0.135), (0.72, 0.055), (0.75, 0.08), (0.78, 0.085),
    (0.81, 0.06), (0.84, 0.065), (0.87, 0.07), (0.90, 0.07), (0.94, 0.08), (0.97, 0.07), (0.995, 0.06),
    (0.765, 0.0), (0.80, 0.0), (0.835, 0.03), (0.865, 0.01), (0.895, 0.02), (0.925, 0.035), (0.945, 0.0),
    (0.965, 0.02), (0.99, 0.005),
    (0.815, 0.0), (0.85, 0.035), (0.88, 0.045), (0.91, 0.035), (0.935, 0.04), (0.955, 0.05), (0.975, 0.03),
    (0.80, 0.085), (0.83, 0.09), (0.865, 0.095), (0.895, 0.10), (0.925, 0.10), (0.945, 0.09), (0.97, 0.09),
    (0.995, 0.085), (0.81, 0.145), (0.84, 0.15), (0.87, 0.16), (0.895, 0.165), (0.92, 0.155), (0.95, 0.13),
    (0.985, 0.16), (0.80, 0.23), (0.82, 0.24), (0.845, 0.215), (0.86, 0.225), (0.88, 0.205), (0.91, 0.225),
    (0.94, 0.205), (0.97, 0.205), (0.995, 0.23), (0.995, 0.18), (0.955, 0.185), (0.92, 0.245), (0.96, 0.25),
    (0.98, 0.245), (0.69, 0.19), (0.71, 0.20), (0.73, 0.19), (0.745, 0.225), (0.77, 0.20), (0.79, 0.215),
    (0.70, 0.235), (0.72, 0.26), (0.74, 0.28), (0.77, 0.27), (0.68, 0.30), (0.71, 0.29), (0.66, 0.235),
    (0.655, 0.20), (0.765, 0.31), (0.80, 0.325), (0.84, 0.31), (0.87, 0.32), (0.90, 0.29),
]

series = [
    ("ECFP", ecfp_pts, "#4c72b0"),
    ("MPNN", mpnn_pts, "#dd8452"),
    ("ACES-MPNN", aces_pts, "#55a868"),
]

tick_vals = [0.0, 0.2, 0.4, 0.6, 0.8, 1.0]
tick_text = ["0.0", "0.2", "0.4", "0.6", "0.8", "1.0"]

sim_cut = 0.901   # dashed threshold lines in panel a
dist_cut = 0.244

# panel b: quadrant split and labels
quad_x = 0.641
quad_y = 0.264
quad_fill = {"I": "#b0b0b0", "II": "#b0b0b0", "III": "#b0b0b0", "IV": "#dbb2c8"}
quad_text = {"I": "Ⅰ", "II": "Ⅱ", "III": "Ⅲ", "IV": "Ⅳ"}

FONT = "Liberation Sans, Arial, Helvetica, sans-serif"
GREY = "#333333"

fig = go.Figure()
for name, pts, color in series:
    fig.add_trace(go.Scatter(
        x=[p[0] for p in pts], y=[p[1] for p in pts],
        mode="markers", name=name, showlegend=False,
        marker=dict(size=13, color=color, opacity=0.5, line=dict(color="white", width=0.7)),
        xaxis="x", yaxis="y", hoverinfo="skip",
    ))
# empty trace so panel b axes exist
fig.add_trace(go.Scatter(x=[None], y=[None], xaxis="x2", yaxis="y2", showlegend=False))

shapes = []
# dashed thresholds
shapes.append(dict(type="line", xref="x", yref="y", x0=sim_cut, x1=sim_cut, y0=0, y1=1,
                   line=dict(color="black", width=3.5, dash="16px,9px"), layer="above"))
shapes.append(dict(type="line", xref="x", yref="y", x0=0, x1=1, y0=dist_cut, y1=dist_cut,
                   line=dict(color="black", width=3.5, dash="16px,9px"), layer="above"))

# legend box (drawn by hand so the symbols can be large)
lx0, lx1, ly0, ly1, r = 0.042, 0.404, 0.764, 0.959, 0.012
path = (f"M {lx0 + r},{ly0} L {lx1 - r},{ly0} Q {lx1},{ly0} {lx1},{ly0 + r} "
        f"L {lx1},{ly1 - r} Q {lx1},{ly1} {lx1 - r},{ly1} L {lx0 + r},{ly1} Q {lx0},{ly1} {lx0},{ly1 - r} "
        f"L {lx0},{ly0 + r} Q {lx0},{ly0} {lx0 + r},{ly0} Z")
shapes.append(dict(type="path", xref="x", yref="y", path=path, fillcolor="rgba(255,255,255,0.82)",
                   line=dict(color="#d0d0d0", width=1.5), layer="above"))
legend_rows = [0.92, 0.863, 0.805]
annotations = []
for (name, _, color), ry in zip(series, legend_rows):
    shapes.append(dict(type="circle", xref="x", yref="y", xsizemode="pixel", ysizemode="pixel",
                       xanchor=0.074, yanchor=ry, x0=-12, x1=12, y0=-12, y1=12,
                       fillcolor=color, opacity=0.5, line=dict(color="white", width=1), layer="above"))
    annotations.append(dict(xref="x", yref="y", x=0.110, y=ry, text=f"<b>{name}</b>", showarrow=False,
                            xanchor="left", yanchor="middle", font=dict(family=FONT, size=26, color=GREY)))

# panel b quadrants
quads = {
    "III": (0, quad_x, quad_y, 1),
    "IV": (quad_x, 1, quad_y, 1),
    "I": (0, quad_x, 0, quad_y),
    "II": (quad_x, 1, 0, quad_y),
}
for key, (x0, x1, y0, y1) in quads.items():
    shapes.append(dict(type="rect", xref="x2", yref="y2", x0=x0, x1=x1, y0=y0, y1=y1,
                       fillcolor=quad_fill[key], line=dict(color="black", width=2), layer="below"))
    annotations.append(dict(xref="x2", yref="y2", x=(x0 + x1) / 2, y=(y0 + y1) / 2, text=quad_text[key],
                            showarrow=False, font=dict(family="Liberation Serif, DejaVu Serif, serif",
                                                       size=50, color="#2b2f3a")))
annotations.append(dict(xref="x2", yref="y2", x=(quad_x + 1) / 2, y=0.555, text="<b>activity cliffs</b>",
                        showarrow=False, font=dict(family="Liberation Sans Narrow, " + FONT, size=30, color="black")))

# axis titles and panel letters (paper coords relative to plot area)
W0, PW, PH = 133, 1337, 614


def px(xp, yp):
    return (xp - W0) / PW, (632 - yp) / PH


for text, (xp, yp), ang, col in [
    ("Property distance", (26, 301), -90, GREY),
    ("Representation similarity", (436, 696), 0, GREY),
    ("Property distance", (801, 301), -90, "black"),
    ("Representation similarity", (1178, 692), 0, "black"),
]:
    ax, ay = px(xp, yp)
    annotations.append(dict(xref="paper", yref="paper", x=ax, y=ay, text=f"<b>{text}</b>", showarrow=False,
                            textangle=ang, xanchor="center", yanchor="middle",
                            font=dict(family=FONT, size=40, color=col)))
for text, xp in [("a", 16), ("b", 799)]:
    ax, ay = px(xp, 2)
    annotations.append(dict(xref="paper", yref="paper", x=ax, y=ay, text=f"<b>{text}</b>", showarrow=False,
                            xanchor="center", yanchor="top", font=dict(family=FONT, size=44, color="black")))

axis_a = dict(range=[0, 1], tickvals=tick_vals, ticktext=tick_text, ticks="inside", ticklen=18, tickwidth=3,
              tickcolor=GREY, showline=True, linecolor=GREY, linewidth=3, mirror=True, showgrid=False,
              zeroline=False, ticklabeloverflow="allow", automargin=False,
              tickfont=dict(family=FONT, size=34, color=GREY, weight="bold"))
axis_b = dict(domain=[0, 1], range=[0, 1], showticklabels=False, ticks="", showgrid=False, zeroline=False,
              showline=True, linecolor="black", linewidth=3, mirror=True, automargin=False)

fig.update_layout(
    width=1477, height=724,
    margin=dict(l=133, r=7, t=18, b=92),
    plot_bgcolor="white", paper_bgcolor="white",
    xaxis=dict(domain=[0, 617 / PW], anchor="y", ticklabelstandoff=-14, **axis_a),
    yaxis=dict(domain=[0, 1], anchor="x", ticklabelstandoff=16, **axis_a),
    xaxis2={**axis_b, "domain": [(854 - W0) / PW, 1], "anchor": "y2"},
    yaxis2={**axis_b, "anchor": "x2"},
    shapes=shapes,
    annotations=annotations,
    showlegend=False,
)

# the page's default body margin would shift the figure by 8px
fig.write_html("out.html", config={"displayModeBar": False},
               post_script="document.body.style.margin='0';")
